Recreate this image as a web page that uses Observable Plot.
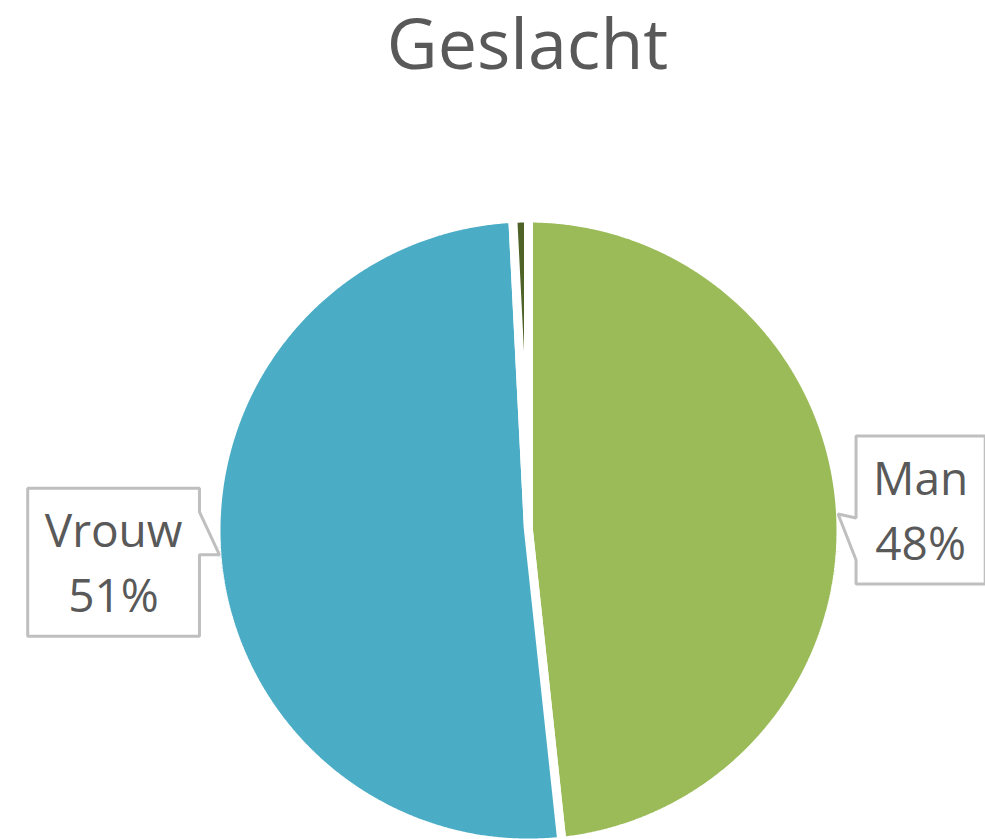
<!DOCTYPE html>
<html>
<head>
<meta charset="utf-8">
<script src="https://cdn.jsdelivr.net/npm/d3@7"></script>
<script src="https://cdn.jsdelivr.net/npm/@observablehq/plot@0.6"></script>
<style>
  html, body { margin: 0; padding: 0; background: #ffffff; overflow: hidden; }
  #chart svg { display: block; }
</style>
</head>
<body>
<div id="chart"></div>
<script>
// ---- data ----
const title = "Geslacht";
const categories = ["Man", "Vrouw", "Anders"];
const shares = [48.3, 50.9, 0.8];
const colors = ["#9BBB59", "#4BACC6", "#4F6228"];
const showLabel = [true, true, false];

// ---- layout ----
const W = 985, H = 839;
const cx = 528, cy = 530, rVis = 308, sep = 9;
const rGeo = rVis + sep / 2;
const fontFamily = "'Open Sans', 'DejaVu Sans', sans-serif";
const textColor = "#595959";
const labelFs = 46, titleFs = 70;
const labelLayout = {
  Man:   { dy: -4,  base: [4, 46] },
  Vrouw: { dy: 7.5, base: [-43, 0] }
};

const data = categories.map((c, i) => ({ name: c, share: shares[i], color: colors[i], label: showLabel[i] }));
const arcs = d3.pie().sort(null).value(d => d.share)(data);

// slice polygons
const slicePts = [];
arcs.forEach(a => {
  slicePts.push({ name: a.data.name, color: a.data.color, x: cx, y: cy });
  const n = Math.max(2, Math.ceil((a.endAngle - a.startAngle) / 0.005));
  for (let k = 0; k <= n; k++) {
    const t = a.startAngle + (a.endAngle - a.startAngle) * k / n;
    slicePts.push({ name: a.data.name, color: a.data.color, x: cx + rGeo * Math.sin(t), y: cy - rGeo * Math.cos(t) });
  }
});

// text measurement
const ctx = document.createElement("canvas").getContext("2d");
ctx.font = `${labelFs}px ${fontFamily}`;

const boxPts = [];
const labelTexts = [];
arcs.filter(a => a.data.label).forEach(a => {
  const mid = (a.startAngle + a.endAngle) / 2;
  const tip = { x: cx + (rVis + 2) * Math.sin(mid), y: cy - (rVis + 2) * Math.cos(mid) };
  const pct = Math.round(a.data.share) + "%";
  const lines = [a.data.name, pct];
  const tw = Math.max(...lines.map(s => ctx.measureText(s).width));
  const w = tw + 34, h = 148;
  const L = labelLayout[a.data.name] || { dy: 0, base: [-20, 20] };
  const right = Math.sin(mid) > 0;
  let x0, x1;
  if (right) { x0 = tip.x + 18; x1 = x0 + w; } else { x1 = tip.x - 20; x0 = x1 - w; }
  const y0 = tip.y + L.dy - h / 2, y1 = y0 + h;
  let poly;
  if (right) {
    poly = [[x0, y0], [x1, y0], [x1, y1], [x0, y1], [x0, tip.y + L.base[1]], [tip.x, tip.y], [x0, tip.y + L.base[0]]];
  } else {
    poly = [[x0, y0], [x1, y0], [x1, tip.y + L.base[0]], [tip.x, tip.y], [x1, tip.y + L.base[1]], [x1, y1], [x0, y1]];
  }
  poly.forEach(([x, y]) => boxPts.push({ name: a.data.name, x, y }));
  const xc = (x0 + x1) / 2;
  labelTexts.push({ text: lines[0], x: xc, y: y0 + 59 - 0.32 * labelFs });
  labelTexts.push({ text: lines[1], x: xc, y: y0 + 124 - 0.32 * labelFs });
});

const chart = Plot.plot({
  width: W,
  height: H,
  margin: 0,
  style: { background: "#ffffff", overflow: "hidden" },
  x: { domain: [0, W], range: [0, W], axis: null },
  y: { domain: [0, H], range: [0, H], axis: null },
  color: { type: "identity" },
  marks: [
    Plot.line(slicePts, {
      x: "x", y: "y", z: "name", fill: "color",
      stroke: "#ffffff", strokeWidth: sep, curve: "linear-closed", strokeLinejoin: "miter"
    }),
    Plot.line(boxPts, {
      x: "x", y: "y", z: "name", fill: "#ffffff",
      stroke: "#BFBFBF", strokeWidth: 3, curve: "linear-closed", strokeLinejoin: "miter"
    }),
    Plot.text(labelTexts, {
      x: "x", y: "y", text: "text", textAnchor: "middle", lineAnchor: "middle",
      fontSize: labelFs, fontFamily, fill: textColor
    }),
    Plot.text([title], {
      x: () => 527, y: () => 68 - 0.32 * titleFs, text: d => d, textAnchor: "middle", lineAnchor: "middle",
      fontSize: titleFs, fontFamily, fill: textColor
    })
  ]
});
document.getElementById("chart").appendChild(chart);
</script>
</body>
</html>
